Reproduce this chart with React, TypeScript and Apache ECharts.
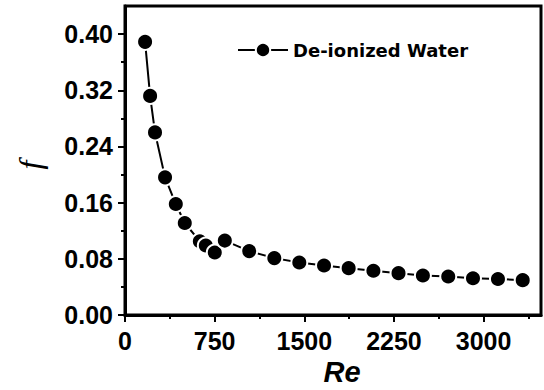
import React, { useEffect, useRef } from "react";
import * as echarts from "echarts";

// Reynolds number and friction factor for de-ionized water
const reynolds = [168, 210, 251, 335, 425, 500, 626, 676, 751, 835, 1039, 1249, 1458, 1665, 1871, 2078, 2288, 2492, 2704, 2911, 3120, 3327];
const friction = [0.389, 0.312, 0.26, 0.196, 0.158, 0.131, 0.105, 0.099, 0.089, 0.106, 0.091, 0.081, 0.0747, 0.0705, 0.0667, 0.063, 0.0596, 0.0562, 0.0548, 0.0524, 0.0513, 0.0496];

const seriesName = "De-ionized Water";

const xMajor = [0, 750, 1500, 2250, 3000];
const xMinor = [375, 1125, 1875, 2625, 3375];
const yMajor = [0, 0.08, 0.16, 0.24, 0.32, 0.4];
const yMinor = [0.04, 0.12, 0.2, 0.28, 0.36];

const X_MAX = 3480;
const Y_MAX = 0.44;

export default function App() {
  const ref = useRef<HTMLDivElement>(null);

  useEffect(() => {
    if (!ref.current) return;
    const chart = echarts.init(ref.current, null, { renderer: "svg" });
    const tickFont = {
      fontFamily: "Liberation Sans",
      fontWeight: "bold" as const,
      fontSize: 25,
      color: "#000",
    };
    const baseX = { type: "value" as const, min: 0, max: X_MAX, gridIndex: 0, position: "bottom" as const, splitLine: { show: false } };
    const baseY = { type: "value" as const, min: 0, max: Y_MAX, gridIndex: 0, position: "left" as const, splitLine: { show: false } };

    chart.setOption({
      animation: false,
      backgroundColor: "#fff",
      grid: {
        left: 125,
        right: 3,
        top: 6,
        bottom: 75,
        show: true,
        borderColor: "#000",
        borderWidth: 3,
      },
      legend: {
        data: [seriesName],
        left: 232,
        top: 36,
        itemWidth: 50,
        itemHeight: 18,
        itemGap: 8,
        textStyle: {
          fontFamily: "DejaVu Sans",
          fontWeight: "bold",
          fontSize: 18,
          color: "#000",
        },
      },
      xAxis: [
        {
          ...baseX,
          axisLine: { show: true, lineStyle: { color: "#000", width: 3 } },
          axisTick: { show: true, customValues: xMajor, length: 7, lineStyle: { color: "#000", width: 2 } },
          axisLabel: { ...tickFont, customValues: xMajor, margin: 13, formatter: (v: number) => String(v) },
        },
        {
          ...baseX,
          axisLine: { show: false },
          axisTick: { show: true, customValues: xMinor, length: 4, lineStyle: { color: "#000", width: 2 } },
          axisLabel: { show: false },
        },
      ],
      yAxis: [
        {
          ...baseY,
          axisLine: { show: true, lineStyle: { color: "#000", width: 3 } },
          axisTick: { show: true, customValues: yMajor, length: 7, lineStyle: { color: "#000", width: 2 } },
          axisLabel: { ...tickFont, customValues: yMajor, margin: 12, formatter: (v: number) => v.toFixed(2) },
        },
        {
          ...baseY,
          axisLine: { show: false },
          axisTick: { show: true, customValues: yMinor, length: 4, lineStyle: { color: "#000", width: 2 } },
          axisLabel: { show: false },
        },
      ],
      graphic: [
        {
          type: "text",
          x: 342,
          y: 372,
          style: {
            text: "Re",
            fontFamily: "Liberation Sans",
            fontWeight: "bold",
            fontStyle: "italic",
            fontSize: 29,
            fill: "#000",
            align: "center",
            verticalAlign: "middle",
          },
        },
        {
          type: "text",
          x: 30,
          y: 165,
          rotation: Math.PI / 2,
          style: {
            text: "f",
            fontFamily: "Liberation Serif",
            fontStyle: "italic",
            fontSize: 32,
            fill: "#000",
            align: "center",
            verticalAlign: "middle",
          },
        },
      ],
      series: [
        {
          name: seriesName,
          type: "line",
          xAxisIndex: 0,
          yAxisIndex: 0,
          data: reynolds.map((r, i) => [r, friction[i]]),
          symbol: "circle",
          symbolSize: 16,
          lineStyle: { color: "#000", width: 2 },
          itemStyle: { color: "#000", borderColor: "#fff", borderWidth: 2 },
          emphasis: { disabled: true },
        },
      ],
    });
    return () => chart.dispose();
  }, []);

  return <div ref={ref} style={{ position: "fixed", left: 0, top: 0, width: 544, height: 390 }} />;
}
